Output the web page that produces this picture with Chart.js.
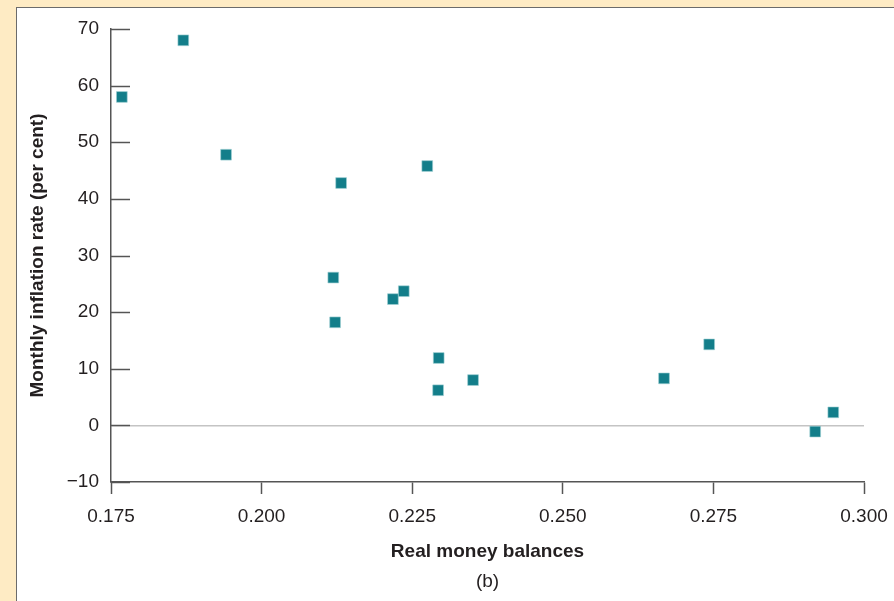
<!DOCTYPE html>
<html>
<head>
<meta charset="utf-8">
<script src="https://cdn.jsdelivr.net/npm/chart.js@4.4.1/dist/chart.umd.min.js"></script>
<style>
  html, body { margin: 0; padding: 0; }
  body { width: 894px; height: 601px; background: #feebc4; position: relative; overflow: hidden; }
  #panel { position: absolute; left: 16px; top: 7px; width: 900px; height: 610px; background: #ffffff; border-left: 1px solid #6b6b6b; border-top: 1px solid #6b6b6b; }
  #wrap { position: absolute; left: 0; top: 0; width: 894px; height: 601px; }
</style>
</head>
<body>
<div id="panel"></div>
<div id="wrap"><canvas id="c" width="894" height="601"></canvas></div>
<script>
// Data
const realMoneyBalances = [0.1768, 0.1870, 0.1941, 0.2132, 0.2275, 0.2119, 0.2122, 0.2218, 0.2236, 0.2294, 0.2293, 0.2351, 0.2668, 0.2743, 0.2949, 0.2919];
const monthlyInflation  = [58.0, 68.0, 47.8, 42.8, 45.8, 26.1, 18.2, 22.3, 23.7, 11.9, 6.2, 8.0, 8.3, 14.3, 2.3, -1.1];
const xTicks = [0.175, 0.200, 0.225, 0.250, 0.275, 0.300];
const yTicks = [-10, 0, 10, 20, 30, 40, 50, 60, 70];
const xTitle = 'Real money balances';
const yTitle = 'Monthly inflation rate (per cent)';
const panelLabel = '(b)';

const FONT = '"Liberation Sans", Arial, Helvetica, sans-serif';
const TEXT = '#231f20';
const AXIS = '#555555';

const points = realMoneyBalances.map((x, i) => ({ x: x, y: monthlyInflation[i] }));

const innerTicks = {
  id: 'innerTicks',
  afterDraw(chart) {
    const ys = chart.scales.y;
    const ctx = chart.ctx;
    const area = chart.chartArea;
    ctx.save();
    ctx.strokeStyle = AXIS;
    ctx.lineWidth = 1.5;
    yTicks.forEach(v => {
      const py = Math.round(ys.getPixelForValue(v)) + 0.5;
      ctx.beginPath();
      ctx.moveTo(area.left, py);
      ctx.lineTo(area.left + 19, py);
      ctx.stroke();
    });
    // panel label under the x-axis title, centred on the plot area
    ctx.fillStyle = TEXT;
    ctx.font = '19px ' + FONT;
    ctx.textAlign = 'center';
    ctx.textBaseline = 'middle';
    ctx.fillText(panelLabel, (area.left + area.right) / 2, area.bottom + 100);
    ctx.restore();
  }
};

new Chart(document.getElementById('c'), {
  type: 'scatter',
  data: {
    datasets: [{
      data: points,
      pointStyle: 'rect',
      pointRadius: 7.6,
      pointHoverRadius: 7.6,
      backgroundColor: '#137e8a',
      borderColor: '#9fd0d4',
      borderWidth: 0.6
    }]
  },
  options: {
    responsive: false,
    animation: false,
    events: [],
    layout: { padding: { top: 29, right: 30, bottom: 0, left: 0 } },
    plugins: {
      legend: { display: false },
      tooltip: { enabled: false },
      title: { display: false }
    },
    scales: {
      x: {
        type: 'linear',
        min: xTicks[0],
        max: xTicks[xTicks.length - 1],
        afterBuildTicks: (s) => { s.ticks = xTicks.map(v => ({ value: v })); },
        afterFit: (s) => { s.height = 601 - 482; s.paddingLeft = 0; s.paddingRight = 0; },
        border: { display: true, color: AXIS, width: 1.5 },
        grid: { drawOnChartArea: false, drawTicks: true, tickLength: 12, tickColor: AXIS, tickWidth: 1.5 },
        ticks: {
          color: TEXT,
          font: { family: FONT, size: 19 },
          padding: 11,
          maxRotation: 0,
          callback: (v) => Number(v).toFixed(3)
        },
        title: {
          display: true,
          text: xTitle,
          color: TEXT,
          font: { family: FONT, size: 19, weight: 'bold' },
          padding: { top: 0, bottom: 38 }
        }
      },
      y: {
        type: 'linear',
        min: yTicks[0],
        max: yTicks[yTicks.length - 1],
        afterBuildTicks: (s) => { s.ticks = yTicks.map(v => ({ value: v })); },
        afterFit: (s) => { s.width = 111; s.paddingTop = 0; s.paddingBottom = 0; },
        border: { display: true, color: AXIS, width: 1.5 },
        grid: {
          drawTicks: false,
          lineWidth: 1.5,
          color: (ctx) => (ctx.tick && ctx.tick.value === 0) ? '#c4c4c4' : 'rgba(0,0,0,0)'
        },
        ticks: {
          color: TEXT,
          font: { family: FONT, size: 19 },
          padding: 12,
          callback: (v) => String(v).replace('-', '\u2212')
        },
        title: {
          display: true,
          text: yTitle,
          color: TEXT,
          font: { family: FONT, size: 19, weight: 'bold' },
          padding: { top: 26, bottom: 0 }
        }
      }
    }
  },
  plugins: [innerTicks]
});
</script>
</body>
</html>
